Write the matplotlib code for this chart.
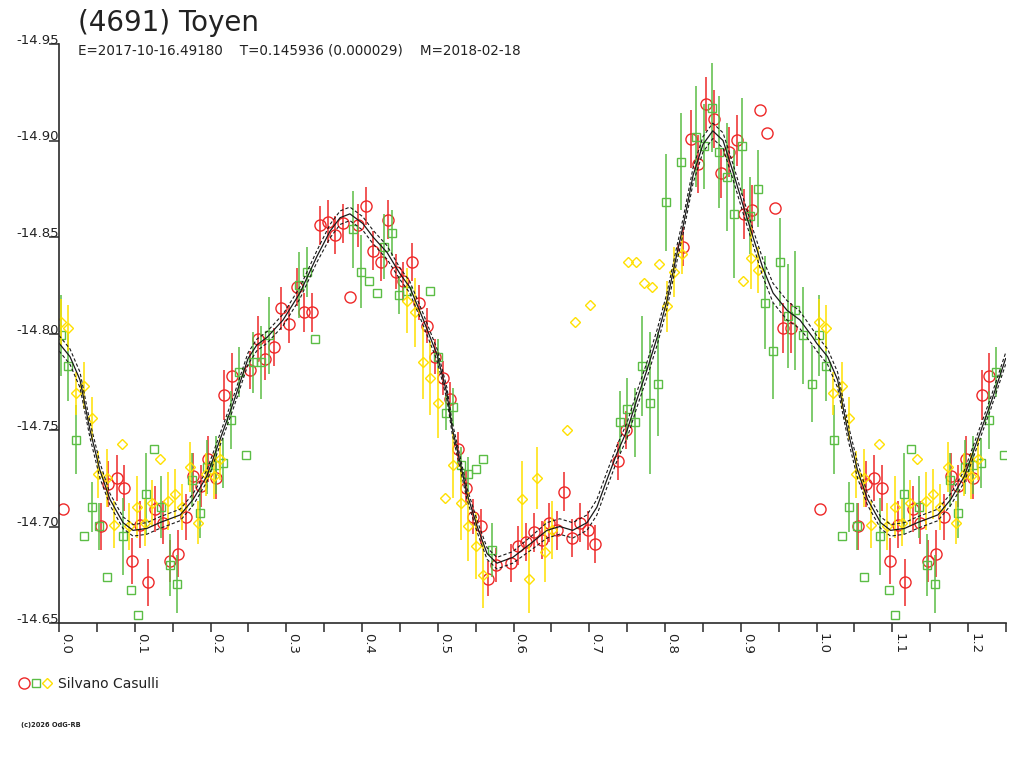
import numpy as np
import matplotlib
matplotlib.use("Agg")
import matplotlib.pyplot as plt

plt.rcParams['font.family'] = ['DejaVu Sans']

# observations: phase, reduced magnitude, error (0 = no error bar drawn)
red_ph = [0.005, 0.055, 0.065, 0.076, 0.086, 0.097, 0.107, 0.117, 0.127, 0.137,
          0.147, 0.157, 0.168, 0.177, 0.187, 0.197, 0.207, 0.218, 0.228, 0.252,
          0.263, 0.272, 0.284, 0.293, 0.304, 0.314, 0.323, 0.334, 0.345, 0.355,
          0.364, 0.375, 0.384, 0.395, 0.405, 0.415, 0.425, 0.434, 0.445, 0.454,
          0.466, 0.475, 0.486, 0.496, 0.507, 0.516, 0.527, 0.537, 0.547, 0.557,
          0.566, 0.577, 0.597, 0.606, 0.616, 0.627, 0.637, 0.647, 0.657, 0.667,
          0.677, 0.688, 0.698, 0.707, 0.738, 0.748, 0.824, 0.834, 0.843, 0.854,
          0.865, 0.874, 0.884, 0.895, 0.904, 0.915, 0.925, 0.935, 0.945, 0.955,
          0.966]
red_mag = [-14.709, -14.700, -14.722, -14.725, -14.720, -14.682, -14.701, -14.671, -14.709, -14.702,
           -14.682, -14.686, -14.705, -14.726, -14.721, -14.735, -14.725, -14.768, -14.778, -14.781,
           -14.797, -14.787, -14.793, -14.813, -14.805, -14.824, -14.811, -14.811, -14.856, -14.858,
           -14.851, -14.857, -14.819, -14.856, -14.866, -14.843, -14.837, -14.859, -14.832, -14.827,
           -14.837, -14.816, -14.804, -14.788, -14.777, -14.766, -14.740, -14.720, -14.705, -14.700,
           -14.673, -14.680, -14.681, -14.690, -14.692, -14.697, -14.693, -14.702, -14.698, -14.718,
           -14.694, -14.702, -14.698, -14.691, -14.734, -14.750, -14.845, -14.901, -14.888, -14.919,
           -14.911, -14.883, -14.894, -14.900, -14.862, -14.864, -14.916, -14.904, -14.865, -14.803,
           -14.803]
red_err = [0, 0.012, 0.012, 0.012, 0.012, 0.012, 0.012, 0.012, 0.012, 0.011,
           0.011, 0.012, 0.012, 0.012, 0.011, 0.012, 0.011, 0.013, 0.012, 0.010,
           0.012, 0.011, 0.010, 0.011, 0.010, 0.010, 0.010, 0.010, 0.010, 0.011,
           0.010, 0.010, 0, 0.011, 0.010, 0.010, 0.010, 0.010, 0.009, 0.010,
           0.010, 0.009, 0.009, 0.009, 0.009, 0.009, 0.009, 0.009, 0.009, 0.009,
           0.009, 0.009, 0.010, 0.010, 0.010, 0.010, 0.010, 0.010, 0.010, 0.010,
           0.010, 0.010, 0.010, 0.010, 0.010, 0.010, 0.010, 0.015, 0.015, 0.014,
           0.015, 0.013, 0.013, 0.013, 0.013, 0.013, 0, 0, 0, 0.013,
           0.013]

grn_ph = [0.003, 0.012, 0.023, 0.033, 0.043, 0.053, 0.063, 0.084, 0.095, 0.104,
          0.115, 0.125, 0.135, 0.146, 0.156, 0.176, 0.186, 0.196, 0.207, 0.217,
          0.227, 0.237, 0.247, 0.256, 0.267, 0.277, 0.317, 0.327, 0.338, 0.388,
          0.399, 0.409, 0.420, 0.429, 0.440, 0.449, 0.459, 0.490, 0.500, 0.511,
          0.520, 0.531, 0.540, 0.550, 0.560, 0.571, 0.740, 0.750, 0.760, 0.770,
          0.780, 0.790, 0.801, 0.821, 0.841, 0.851, 0.862, 0.871, 0.882, 0.891,
          0.902, 0.912, 0.922, 0.932, 0.942, 0.952, 0.962, 0.972, 0.982, 0.994]
grn_mag = [-14.799, -14.783, -14.745, -14.695, -14.710, -14.700, -14.674, -14.695, -14.667, -14.654,
           -14.717, -14.740, -14.710, -14.680, -14.670, -14.724, -14.707, -14.731, -14.732, -14.733,
           -14.755, -14.780, -14.737, -14.785, -14.785, -14.799, -14.825, -14.832, -14.797, -14.854,
           -14.832, -14.827, -14.821, -14.845, -14.852, -14.820, -14.822, -14.822, -14.788, -14.759,
           -14.762, -14.732, -14.727, -14.730, -14.735, -14.688, -14.754, -14.761, -14.754, -14.783,
           -14.764, -14.774, -14.868, -14.889, -14.902, -14.897, -14.917, -14.894, -14.881, -14.862,
           -14.897, -14.861, -14.875, -14.816, -14.791, -14.837, -14.809, -14.812, -14.799, -14.774]
grn_err = [0.021, 0.018, 0.018, 0, 0.013, 0.012, 0, 0.020, 0, 0,
           0.021, 0, 0.016, 0.016, 0.015, 0.014, 0.013, 0.014, 0.015, 0.013,
           0.015, 0.013, 0, 0.016, 0.019, 0.020, 0.017, 0.013, 0, 0.020,
           0.019, 0, 0, 0.017, 0.012, 0.010, 0, 0, 0.009, 0.009,
           0.010, 0.009, 0.009, 0, 0, 0.014, 0.016, 0.016, 0.018, 0.026,
           0.037, 0.027, 0.025, 0.025, 0.026, 0.022, 0.023, 0.029, 0.028, 0.033,
           0.025, 0.020, 0.020, 0.024, 0.025, 0.023, 0.027, 0.031, 0.025, 0.020]

yel_ph = [0.003, 0.012, 0.022, 0.033, 0.043, 0.052, 0.063, 0.072, 0.083, 0.093,
          0.103, 0.113, 0.123, 0.133, 0.144, 0.153, 0.163, 0.173, 0.184, 0.194,
          0.204, 0.213, 0.459, 0.470, 0.480, 0.490, 0.500, 0.510, 0.520, 0.531,
          0.540, 0.551, 0.560, 0.611, 0.621, 0.631, 0.641, 0.651, 0.671, 0.681,
          0.701, 0.751, 0.762, 0.772, 0.783, 0.792, 0.802, 0.812, 0.822, 0.903,
          0.913, 0.923]
yel_mag = [-14.806, -14.803, -14.769, -14.773, -14.756, -14.727, -14.725, -14.701, -14.743, -14.700,
           -14.710, -14.702, -14.712, -14.735, -14.713, -14.717, -14.710, -14.731, -14.702, -14.727,
           -14.726, -14.735, -14.817, -14.811, -14.785, -14.777, -14.764, -14.715, -14.732, -14.712,
           -14.700, -14.690, -14.675, -14.714, -14.673, -14.725, -14.687, -14.698, -14.750, -14.806,
           -14.815, -14.837, -14.837, -14.826, -14.824, -14.836, -14.814, -14.832, -14.841, -14.827,
           -14.839, -14.833]
yel_err = [0.012, 0.012, 0.011, 0.012, 0.011, 0.012, 0.015, 0.012, 0, 0.012,
           0.016, 0.012, 0.012, 0, 0.015, 0.013, 0.012, 0.013, 0.011, 0.011,
           0.012, 0.011, 0.017, 0.018, 0.019, 0.019, 0.018, 0, 0.017, 0.019,
           0.018, 0.017, 0.017, 0.020, 0.018, 0.016, 0.016, 0.015, 0, 0,
           0, 0, 0, 0, 0, 0, 0.013, 0.013, 0.010, 0,
           0.016, 0.012]

# fitted curve and its uncertainty band
fit_ph = [0.000, 0.0145, 0.0277, 0.0409, 0.0541, 0.0673, 0.0845, 0.0977, 0.116, 0.133,
          0.160, 0.177, 0.195, 0.2125, 0.230, 0.2495, 0.261, 0.2746, 0.2957, 0.318,
          0.3405, 0.3577, 0.371, 0.384, 0.401, 0.4145, 0.433, 0.450, 0.463, 0.480,
          0.499, 0.512, 0.519, 0.529, 0.5385, 0.552, 0.565, 0.578, 0.599, 0.622,
          0.644, 0.661, 0.678, 0.697, 0.710, 0.723, 0.7365, 0.750, 0.763, 0.776,
          0.7895, 0.8025, 0.816, 0.824, 0.837, 0.850, 0.863, 0.8765, 0.8895, 0.9025,
          0.916, 0.929, 0.9425, 0.961, 0.978, 0.995]
fit_mag = [-14.795, -14.788, -14.776, -14.750, -14.729, -14.714, -14.702, -14.698, -14.699, -14.702,
           -14.706, -14.714, -14.726, -14.745, -14.764, -14.787, -14.794, -14.798, -14.807, -14.821,
           -14.840, -14.853, -14.860, -14.862, -14.857, -14.850, -14.842, -14.831, -14.824, -14.808,
           -14.789, -14.769, -14.751, -14.734, -14.717, -14.700, -14.686, -14.681, -14.684, -14.691,
           -14.698, -14.700, -14.698, -14.702, -14.710, -14.724, -14.738, -14.750, -14.766, -14.781,
           -14.798, -14.817, -14.842, -14.856, -14.882, -14.898, -14.905, -14.900, -14.884, -14.867,
           -14.850, -14.834, -14.821, -14.812, -14.807, -14.798]
fit_sig = [0.004, 0.004, 0.004, 0.004, 0.004, 0.003, 0.003, 0.003, 0.003, 0.003,
           0.003, 0.003, 0.003, 0.003, 0.003, 0.003, 0.003, 0.003, 0.003, 0.003,
           0.003, 0.0035, 0.0035, 0.0035, 0.0035, 0.0035, 0.0035, 0.003, 0.003, 0.003,
           0.003, 0.003, 0.003, 0.003, 0.003, 0.003, 0.003, 0.003, 0.003, 0.0035,
           0.004, 0.004, 0.004, 0.004, 0.004, 0.004, 0.004, 0.004, 0.004, 0.004,
           0.004, 0.004, 0.004, 0.004, 0.004, 0.004, 0.004, 0.004, 0.004, 0.004,
           0.004, 0.0045, 0.005, 0.005, 0.0045, 0.004]

RED = '#ee2828'
GRN = '#5bbd45'
YEL = '#ffe000'
AX = '#2a2a2a'
TXT = '#222222'


def wrap(ph, *cols):
    # repeat the first quarter of the phase after phase 1
    ph = np.asarray(ph)
    sel = ph <= 0.25
    out = [np.concatenate([ph, ph[sel] + 1])]
    for c in cols:
        c = np.asarray(c)
        out.append(np.concatenate([c, c[sel]]))
    return out


fig = plt.figure(figsize=(10.24, 7.68), dpi=100)
ax = fig.add_axes([59 / 1024, 1 - 623 / 768, (1006 - 59) / 1024, (623 - 44) / 768])

for ph, mag, err, col, mk, ms in [
        (red_ph, red_mag, red_err, RED, 'o', 8.0),
        (grn_ph, grn_mag, grn_err, GRN, 's', 5.8),
        (yel_ph, yel_mag, yel_err, YEL, 'D', 5.0)]:
    p, m, e = wrap(ph, mag, err)
    ax.errorbar(p, m, yerr=e, fmt='none', ecolor=col, elinewidth=1.1, capsize=0)
    ax.plot(p, m, mk, mfc='none', mec=col, ms=ms, mew=1.0, ls='none',
            antialiased=False)

fp, fm, fs = wrap(fit_ph, fit_mag, fit_sig)
ax.plot(fp, fm, color='#1a1a1a', lw=0.9)
ax.plot(fp, fm - fs, color='#1a1a1a', lw=0.8, ls=(0, (3, 2)))
ax.plot(fp, fm + fs, color='#1a1a1a', lw=0.8, ls=(0, (3, 2)))

ax.set_xlim(0, 1.25)
ax.set_ylim(-14.65, -14.95)

for s in ['top', 'right']:
    ax.spines[s].set_visible(False)
for s in ['left', 'bottom']:
    ax.spines[s].set_color(AX)
    ax.spines[s].set_linewidth(1.2)

xmaj = np.arange(0, 1.21, 0.1)
ymaj = np.arange(-14.95, -14.649, 0.05)
ax.set_xticks(xmaj)
ax.set_xticks(np.arange(0.05, 1.26, 0.1), minor=True)
ax.set_xticklabels([f'{v:.1f}' for v in xmaj])
ax.set_yticks(ymaj)
ax.set_yticklabels([f'{v:.2f}' for v in ymaj])

ax.tick_params(axis='x', which='both', direction='out', length=6.5, width=1.1,
               color=AX, labelsize=9.5, pad=1, labelcolor=TXT)
ax.tick_params(axis='y', direction='out', length=7.5, width=1.1, color=AX,
               labelsize=9.5, pad=-7.5, labelcolor=TXT)
for lab in ax.get_xticklabels():
    lab.set_rotation(-90)
    lab.set_ha('left')
    lab.set_va('top')
for lab in ax.get_yticklabels():
    lab.set_va('baseline')

fig.text(78 / 1024, 1 - 31 / 768, '(4691) Toyen', fontsize=20, color=TXT)
fig.text(78 / 1024, 1 - 55 / 768,
         'E=2017-10-16.49180    T=0.145936 (0.000029)    M=2018-02-18',
         fontsize=9.75, color=TXT)

# legend
ax.plot([24 / 1024], [1 - 683 / 768], 'o', mfc='none', mec=RED, ms=8, mew=1.0,
        transform=fig.transFigure, clip_on=False, antialiased=False)
ax.plot([36 / 1024], [1 - 683 / 768], 's', mfc='none', mec=GRN, ms=5.8, mew=1.0,
        transform=fig.transFigure, clip_on=False, antialiased=False)
ax.plot([47 / 1024], [1 - 683 / 768], 'D', mfc='none', mec=YEL, ms=5, mew=1.0,
        transform=fig.transFigure, clip_on=False, antialiased=False)
fig.text(58 / 1024, 1 - 688 / 768, 'Silvano Casulli', fontsize=10, color=TXT)

fig.text(21 / 1024, 1 - 727 / 768, '(c)2026 OdG-RB', fontsize=4.8, weight='bold',
         color=TXT)

fig.savefig('out.png', dpi=100)
